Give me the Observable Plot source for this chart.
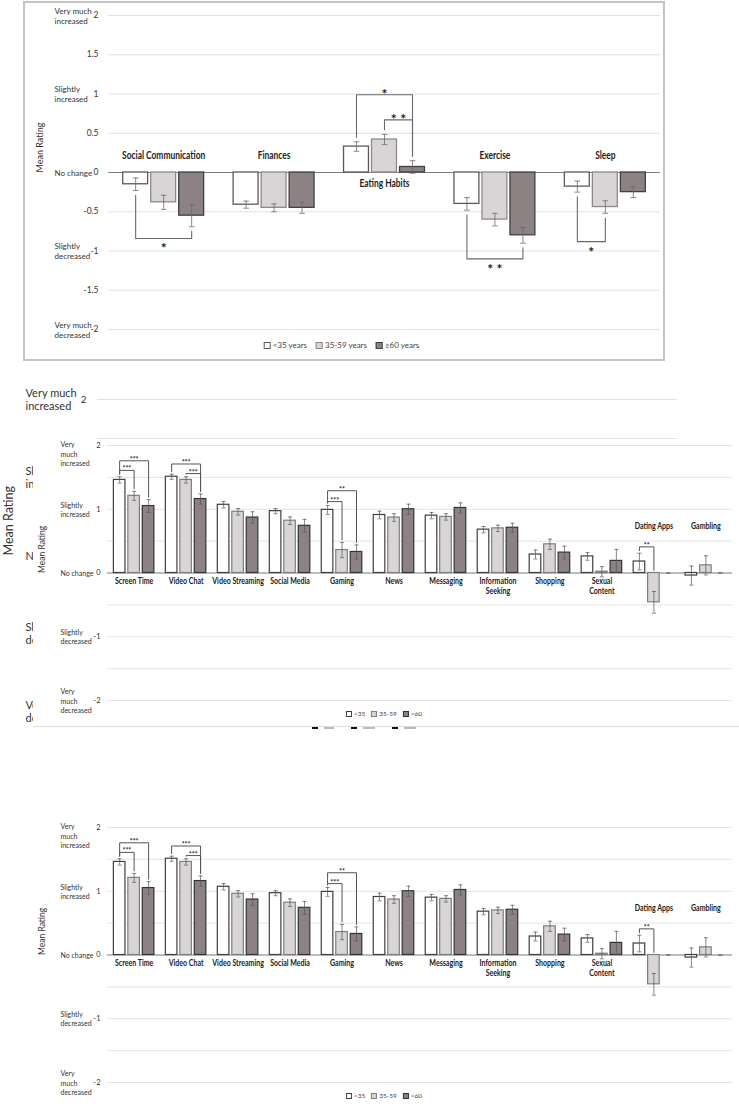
<!DOCTYPE html>
<html>
<head>
<meta charset="utf-8">
<script src="https://cdn.jsdelivr.net/npm/d3@7"></script>
<script src="https://cdn.jsdelivr.net/npm/@observablehq/plot@0.6"></script>
<style>
  body { margin: 0; background: #fff; }
  #page { position: relative; width: 739px; height: 1110px; overflow: hidden; background: #fff; font-family: Lato, "Open Sans", sans-serif; color: #333; }
  .abs { position: absolute; }
  #topbox { left: 23px; top: 1px; width: 638px; height: 356px; border: 2px solid #c4c4c4; background: #fff; }
  #midbg { left: 0; top: 390px; width: 739px; height: 340px; }
  #midfg { left: 33px; top: 440px; width: 706px; height: 286px; background: #fff; border-bottom: 1px solid #dcdcdc; overflow: hidden; }
  #bottom { left: 33px; top: 822px; width: 706px; height: 288px; background: #fff; overflow: hidden; }
  #bgleg { left: 300px; top: 727px; width: 140px; height: 3px; overflow: hidden; }
  #bgleg div { position: absolute; top: 0; }
  .leg { position: absolute; display: flex; align-items: center; white-space: nowrap; transform: translateX(-50%); }
  .leg span.sw { display: inline-block; box-sizing: border-box; margin-right: 2px; }
</style>
</head>
<body>
<div id="page">
  <div id="midbg" class="abs"></div>
  <div id="bgleg" class="abs"></div>
  <div id="midfg" class="abs"></div>
  <div id="bottom" class="abs"></div>
  <div id="topbox" class="abs"></div>
</div>
<script>
// ---------------- DATA ----------------
// Panel 1: lifestyle domains
const ageGroupsTop = ["<35 years", "35-59 years", "≥60 years"];
const domainsTop = ["Social Communication", "Finances", "Eating Habits", "Exercise", "Sleep"];
const meanTopUnder35 = [-0.15, -0.41, 0.33, -0.40, -0.18];
const meanTop35to59  = [-0.38, -0.45, 0.42, -0.60, -0.44];
const meanTop60plus  = [-0.55, -0.45, 0.07, -0.80, -0.25];
const errTopUnder35  = [0.08, 0.045, 0.06, 0.08, 0.07];
const errTop35to59   = [0.09, 0.05, 0.065, 0.08, 0.08];
const errTop60plus   = [0.14, 0.07, 0.08, 0.10, 0.07];
const sigTop = [
  {cat: "Social Communication", a: "<35 years", b: "≥60 years", stars: "*", level: -0.84},
  {cat: "Eating Habits", a: "<35 years", b: "≥60 years", stars: "*", level: 0.99},
  {cat: "Eating Habits", a: "35-59 years", b: "≥60 years", stars: "* *", level: 0.67},
  {cat: "Exercise", a: "<35 years", b: "≥60 years", stars: "* *", level: -1.10},
  {cat: "Sleep", a: "<35 years", b: "35-59 years", stars: "*", level: -0.88}
];

// Panels 2 and 3: digital activities
const ageGroupsDigital = ["<35", "35-59", ">60"];
const activities = ["Screen Time", "Video Chat", "Video Streaming", "Social Media", "Gaming", "News", "Messaging",
  "Information\nSeeking", "Shopping", "Sexual\nContent", "Dating Apps", "Gambling"];
const meanDigUnder35 = [1.46, 1.51, 1.07, 0.97, 0.99, 0.91, 0.90, 0.68, 0.29, 0.26, 0.18, -0.04];
const meanDig35to59  = [1.21, 1.46, 0.96, 0.82, 0.36, 0.87, 0.88, 0.70, 0.45, 0.02, -0.46, 0.12];
const meanDig60plus  = [1.05, 1.16, 0.87, 0.74, 0.33, 1.00, 1.02, 0.71, 0.32, 0.19, 0, 0];
const errDigUnder35  = [0.05, 0.04, 0.05, 0.04, 0.07, 0.06, 0.05, 0.05, 0.07, 0.06, 0.13, 0.15];
const errDig35to59   = [0.07, 0.05, 0.05, 0.06, 0.12, 0.06, 0.05, 0.05, 0.08, 0.08, 0.17, 0.15];
const errDig60plus   = [0.10, 0.08, 0.09, 0.10, 0.11, 0.08, 0.08, 0.07, 0.10, 0.18, 0, 0];
const sigDigital = [
  {cat: "Screen Time", a: "<35", b: ">60", stars: "***", level: 1.76},
  {cat: "Screen Time", a: "<35", b: "35-59", stars: "***", level: 1.61},
  {cat: "Video Chat", a: "<35", b: ">60", stars: "***", level: 1.71},
  {cat: "Video Chat", a: "35-59", b: ">60", stars: "***", level: 1.56},
  {cat: "Gaming", a: "<35", b: ">60", stars: "**", level: 1.29},
  {cat: "Gaming", a: "<35", b: "35-59", stars: "***", level: 1.12},
  {cat: "Dating Apps", a: "<35", b: "35-59", stars: "**", level: 0.41}
];

// Axis labels
const levelValues = [2, 1, 0, -1, -2];
const levelLabelsTop = ["Very much\nincreased", "Slightly\nincreased", "No change", "Slightly\ndecreased", "Very much\ndecreased"];
const levelLabelsDigital = ["Very\nmuch\nincreased", "Slightly\nincreased", "No change", "Slightly\ndecreased", "Very\nmuch\ndecreased"];
const tickValuesTop = [2, 1.5, 1, 0.5, 0, -0.5, -1, -1.5, -2];
const tickValuesDigital = [2, 1, 0, -1, -2];
const gridValues = [2, 1.5, 1, 0.5, -0.5, -1, -1.5, -2];
const yAxisTitle = "Mean Rating";

// ---------------- STYLE ----------------
const FONT = "Lato, 'Open Sans', sans-serif";
const fills = ["#ffffff", "#d9d5d6", "#8c8283"];

// narrow the bold category labels (reference font is a condensed face)
function condense(svg, factor) {
  svg.querySelectorAll("g.cond text").forEach(t => {
    const spans = t.querySelectorAll("tspan");
    const els = spans.length ? Array.from(spans) : [t];
    els.forEach(el => {
      const w = el.getComputedTextLength();
      if (w > 0) { el.setAttribute("textLength", (w * factor).toFixed(2)); el.setAttribute("lengthAdjust", "spacingAndGlyphs"); }
    });
  });
}

function barChart(o) {
  const rows = [];
  o.cats.forEach((c, ci) => o.ages.forEach((a, gi) =>
    rows.push({cat: c, ci, age: a, gi, v: o.means[gi][ci], e: o.errs[gi][ci]})));
  const slot = (ci, gi) => ci * o.S + gi;
  const cx = d => slot(d.ci, d.gi) + 0.5;
  const find = (ci, gi) => rows.find(r => r.ci === ci && r.gi === gi);
  const pts = [], stars = [];
  o.sigs.forEach((s, k) => {
    const ci = o.cats.indexOf(s.cat), ga = o.ages.indexOf(s.a), gb = o.ages.indexOf(s.b);
    const up = s.level > 0;
    const end = gi => { const d = find(ci, gi);
      return up ? Math.max(d.v, 0, d.v + d.e) + o.gap : Math.min(d.v, 0, d.v - d.e) - o.gap; };
    const xa = slot(ci, ga) + 0.5, xb = slot(ci, gb) + 0.5;
    pts.push({k, x: xa, y: end(ga)}, {k, x: xa, y: s.level}, {k, x: xb, y: s.level}, {k, x: xb, y: end(gb)});
    stars.push({x: (xa + xb) / 2, y: s.level, text: s.stars, up});
  });
  const catRows = o.cats.map((c, ci) => ({c, x: slot(ci, 0) + 1.5,
    below: o.ages.every((a, gi) => find(ci, gi).v >= 0)}));
  const lvl = o.levels.map((v, i) => ({v, t: o.levelLabels[i]}));
  const marks = [
    Plot.gridY({ticks: gridValues, stroke: o.gridColor, strokeOpacity: 1, strokeWidth: 1}),
    Plot.axisY({ticks: o.ticks, tickSize: 0, tickPadding: o.tickPadding, tickFormat: d => String(d),
      label: null, fontSize: o.tickFont}),
    Plot.text(lvl.filter(d => !(o.topAnchorTop && d.v === 2)), {y: "v", text: "t", frameAnchor: "left", dx: o.levelDx,
      textAnchor: "start", lineAnchor: "middle", fontSize: o.levelFont, lineHeight: o.levelLH}),
    Plot.text(lvl.filter(d => o.topAnchorTop && d.v === 2), {y: "v", text: "t", frameAnchor: "left", dx: o.levelDx,
      dy: -5, textAnchor: "start", lineAnchor: "top", fontSize: o.levelFont, lineHeight: o.levelLH}),
    Plot.text([yAxisTitle], {text: d => d, frameAnchor: "left", rotate: -90, dx: o.titleDx, fontSize: o.titleFont}),
    Plot.ruleY([0], {stroke: o.zeroColor, strokeWidth: o.zeroWidth}),
    ...o.ages.map((a, gi) => Plot.rect(rows.filter(d => d.gi === gi && d.v !== 0), {
      x1: d => slot(d.ci, d.gi) + o.inner, x2: d => slot(d.ci, d.gi) + 1 - o.inner,
      y1: 0, y2: "v", fill: fills[gi], stroke: o.strokes[gi], strokeWidth: o.barStroke})),
    Plot.ruleX(rows, {x: cx, y1: d => d.v - d.e, y2: d => d.v + d.e, stroke: o.errColor, strokeWidth: o.errWidth}),
    Plot.link(rows, {x1: d => cx(d) - o.cap, x2: d => cx(d) + o.cap, y1: d => d.v + d.e, y2: d => d.v + d.e,
      stroke: o.errColor, strokeWidth: o.errWidth}),
    Plot.link(rows, {x1: d => cx(d) - o.cap, x2: d => cx(d) + o.cap, y1: d => d.v - d.e, y2: d => d.v - d.e,
      stroke: o.errColor, strokeWidth: o.errWidth}),
    Plot.line(pts, {x: "x", y: "y", z: "k", stroke: o.brColor, strokeWidth: o.brWidth}),
    Plot.text(stars.filter(s => s.up), {x: "x", y: "y", text: "text", lineAnchor: "bottom", dy: o.starUpDy,
      fontSize: o.starFont, fontWeight: "bold", fill: "#222"}),
    Plot.text(stars.filter(s => !s.up), {x: "x", y: "y", text: "text", lineAnchor: "top", dy: o.starDownDy,
      fontSize: o.starFont, fontWeight: "bold", fill: "#222"}),
    Plot.text(catRows.filter(d => d.below), {x: "x", y: 0, text: "c", lineAnchor: "top", dy: o.belowDy,
      fontWeight: "bold", fontSize: o.catFont, lineHeight: 1.15, fill: "#222", className: "cond"}),
    Plot.text(catRows.filter(d => !d.below), {x: "x", y: o.aboveVal, text: "c", lineAnchor: "middle",
      fontWeight: "bold", fontSize: o.catFont, lineHeight: 1.15, fill: "#222", className: "cond"})
  ];
  const svg = Plot.plot({
    width: o.width, height: o.height,
    marginLeft: o.marginLeft, marginRight: o.marginRight, marginTop: o.marginTop, marginBottom: o.marginBottom,
    x: {domain: [-o.po, (o.cats.length - 1) * o.S + 3 + o.po], axis: null},
    y: {domain: [-2, 2], axis: null},
    style: {fontFamily: FONT, color: "#333", background: "transparent", overflow: "visible"},
    marks
  });
  svg.style.position = "absolute"; svg.style.left = "0px"; svg.style.top = "0px";
  return svg;
}

function makeLegend(labels, strokes, o) {
  const div = document.createElement("div");
  div.className = "leg";
  div.style.left = o.center + "px"; div.style.top = o.top + "px";
  div.style.fontSize = o.fontSize + "px"; div.style.fontFamily = FONT; div.style.color = "#444";
  labels.forEach((l, i) => {
    const item = document.createElement("span");
    item.style.display = "inline-flex"; item.style.alignItems = "center"; item.style.marginRight = o.gap + "px";
    const sw = document.createElement("span");
    sw.className = "sw";
    sw.style.width = o.sw + "px"; sw.style.height = o.sw + "px";
    sw.style.background = fills[i]; sw.style.border = "1px solid " + strokes[i];
    item.appendChild(sw);
    item.appendChild(document.createTextNode(l));
    div.appendChild(item);
  });
  return div;
}

// ---------- Panel 1 ----------
const strokesTop = ["#5a5a5a", "#8a8a8a", "#404040"];
const topHost = document.getElementById("topbox");
const topSvg = barChart({
  cats: domainsTop, ages: ageGroupsTop,
  means: [meanTopUnder35, meanTop35to59, meanTop60plus], errs: [errTopUnder35, errTop35to59, errTop60plus],
  sigs: sigTop, levels: levelValues, levelLabels: levelLabelsTop, ticks: tickValuesTop,
  width: 638, height: 330, marginLeft: 83, marginRight: 3, marginTop: 12, marginBottom: 4,
  S: 3.943, po: 0.47, inner: 0.055, cap: 0.1, gap: 0.06,
  gridColor: "#e2e2e2", zeroColor: "#7f7f7f", zeroWidth: 1,
  strokes: strokesTop, barStroke: 1.3, errColor: "#6a6a6a", errWidth: 0.8,
  brColor: "#6a6a6a", brWidth: 1.1, starFont: 14, starUpDy: 4, starDownDy: 5,
  tickFont: 8.5, tickPadding: 10, levelFont: 8, levelLH: 1.25, levelDx: -54,
  titleDx: -68, titleFont: 9, catFont: 10.5, belowDy: 6, aboveVal: 0.22, topAnchorTop: false
});
topHost.appendChild(topSvg);
condense(topSvg, 0.8);
topHost.appendChild(makeLegend(ageGroupsTop, strokesTop, {center: 321, top: 337, fontSize: 8, sw: 7, gap: 9}));

// ---------- Panel 2 background (larger, mostly hidden) ----------
const bgChart = Plot.plot({
  width: 739, height: 330, marginLeft: 97, marginRight: 62, marginTop: 9, marginBottom: 9,
  x: {domain: [0, 1], axis: null}, y: {domain: [-2, 2], axis: null},
  style: {fontFamily: FONT, color: "#333", background: "transparent", overflow: "visible"},
  marks: [
    Plot.gridY({ticks: gridValues, stroke: "#e2e2e2", strokeOpacity: 1}),
    Plot.axisY({ticks: tickValuesDigital, tickSize: 0, tickPadding: 11, tickFormat: d => String(d), label: null, fontSize: 10}),
    Plot.text(levelValues.map((v, i) => ({v, t: levelLabelsTop[i]})), {y: "v", text: "t", frameAnchor: "left", dx: -72,
      textAnchor: "start", lineAnchor: "middle", fontSize: 11, lineHeight: 1.2}),
    Plot.text([yAxisTitle], {text: d => d, frameAnchor: "left", rotate: -90, dx: -89, fontSize: 12.5})
  ]
});
bgChart.style.position = "absolute"; bgChart.style.left = "0px"; bgChart.style.top = "0px";
document.getElementById("midbg").appendChild(bgChart);
// the hidden background legend only peeks out as tiny fragments
const bgLeg = document.getElementById("bgleg");
[[12, "#111", 6], [24, "#bbb", 10], [51, "#111", 6], [63, "#bbb", 12], [92, "#111", 6], [104, "#bbb", 12]].forEach(([l, c, w]) => {
  const d = document.createElement("div");
  d.style.left = l + "px"; d.style.width = w + "px"; d.style.height = "2px"; d.style.background = c;
  bgLeg.appendChild(d);
});

// ---------- Panels 2 (foreground) and 3 ----------
const strokesDig = ["#3f3f3f", "#7f7f7f", "#333333"];
function digitalConfig() {
  return {
    cats: activities, ages: ageGroupsDigital,
    means: [meanDigUnder35, meanDig35to59, meanDig60plus], errs: [errDigUnder35, errDig35to59, errDig60plus],
    sigs: sigDigital, levels: levelValues, levelLabels: levelLabelsDigital, ticks: tickValuesDigital,
    width: 706, height: 286, marginLeft: 74, marginRight: 7, marginTop: 5, marginBottom: 26,
    S: 3.592, po: 0.34, inner: 0.1, cap: 0.14, gap: 0.04,
    gridColor: "#e4e4e4", zeroColor: "#a6a6a6", zeroWidth: 1.3,
    strokes: strokesDig, barStroke: 1.2, errColor: "#555", errWidth: 0.7,
    brColor: "#555", brWidth: 1, starFont: 7, starUpDy: 1, starDownDy: 1,
    tickFont: 7.5, tickPadding: 7, levelFont: 7, levelLH: 1.35, levelDx: -47,
    titleDx: -65, titleFont: 8.5, catFont: 8.8, belowDy: 4, aboveVal: 0.74, topAnchorTop: true
  };
}
for (const id of ["midfg", "bottom"]) {
  const host = document.getElementById(id);
  const svg = barChart(digitalConfig());
  host.appendChild(svg);
  condense(svg, 0.8);
  host.appendChild(makeLegend(ageGroupsDigital, strokesDig, {center: 354, top: 270, fontSize: 6.5, sw: 6, gap: 6}));
}
</script>
</body>
</html>
